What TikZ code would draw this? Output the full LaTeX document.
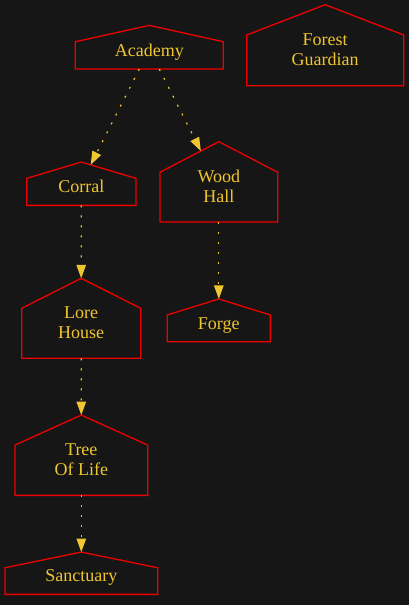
\documentclass[tikz,border=0pt]{standalone}
\usepackage{fontspec}
\setmainfont{Liberation Serif}
\usetikzlibrary{arrows.meta,calc}
\definecolor{bg}{HTML}{161616}
\definecolor{roofred}{HTML}{EE0000}
\definecolor{gold}{HTML}{F0C630}
\begin{document}
\begin{tikzpicture}
[
  x=1pt, y=-1pt,
  house/.style = {inner sep=0pt, outer sep=0pt},
  outline/.style = {draw=roofred, line width=1.3pt, line join=miter},
  lbl/.style = {text=gold, font=\fontsize{18}{20}\selectfont, align=center},
  link/.style = {gold, line width=1.2pt, dash pattern=on 2pt off 8pt,
                 -{Triangle[length=13.5pt,width=9.5pt]}},
]
%background
\useasboundingbox (0,0) rectangle (409,605);
\fill[bg] (0,0) rectangle (409,605);

%houses (bounding boxes)
\node[house, minimum width=148pt, minimum height=43.7pt] (academy) at (149.3,47.2) {};
\node[house, minimum width=157pt, minimum height=81pt] (forest) at (325.2,45.2) {};
\node[house, minimum width=109.3pt, minimum height=43.3pt] (corral) at (81.3,183.7) {};
\node[house, minimum width=117.7pt, minimum height=80.3pt] (woodhall) at (218.8,181.8) {};
\node[house, minimum width=119pt, minimum height=80pt] (lore) at (81.2,318.3) {};
\node[house, minimum width=103pt, minimum height=42.7pt] (forge) at (218.8,320.3) {};
\node[house, minimum width=132.7pt, minimum height=80.3pt] (tree) at (81.3,455.2) {};
\node[house, minimum width=152.7pt, minimum height=42.3pt] (sanctuary) at (81.3,573.2) {};

%outline: floor, walls, roof
\foreach \n/\r in {academy/16.4, forest/30.3, corral/16.3, woodhall/30.6,
                   lore/30, forge/16, tree/30, sanctuary/15.7}
  \draw[outline] (\n.south west) -- (\n.south east) -- ($(\n.north east)+(0,\r)$)
    -- (\n.north) -- ($(\n.north west)+(0,\r)$) -- cycle;

%labels
\node[lbl] at ([yshift=-4.8pt]academy.center) {Academy};
\node[lbl] at ([yshift=-4.6pt]forest.center) {Forest\\Guardian};
\node[lbl] at ([yshift=-2.3pt]corral.center) {Corral};
\node[lbl] at ([yshift=-4.6pt]woodhall.center) {Wood\\Hall};
\node[lbl] at ([yshift=-4.8pt]lore.center) {Lore\\House};
\node[lbl] at ([yshift=-5pt]forge.center) {Forge};
\node[lbl] at ([yshift=-4.6pt]tree.center) {Tree\\Of Life};
\node[lbl] at ([yshift=-4.6pt]sanctuary.center) {Sanctuary};

%points where the slanted links meet the roofs
\coordinate (corral-in) at ($(corral.north)!0.171!($(corral.north east)+(0,16.3)$)$);
\coordinate (woodhall-in) at ($(woodhall.north)!0.305!($(woodhall.north west)+(0,30.6)$)$);

%links
\draw[link] ([xshift=-10pt]academy.south) -- (corral-in);
\draw[link] ([xshift=10pt]academy.south) -- (woodhall-in);
\draw[link] (corral.south) -- (lore.north);
\draw[link] (woodhall.south) -- (forge.north);
\draw[link] (lore.south) -- (tree.north);
\draw[link] (tree.south) -- (sanctuary.north);
\end{tikzpicture}
\end{document}
